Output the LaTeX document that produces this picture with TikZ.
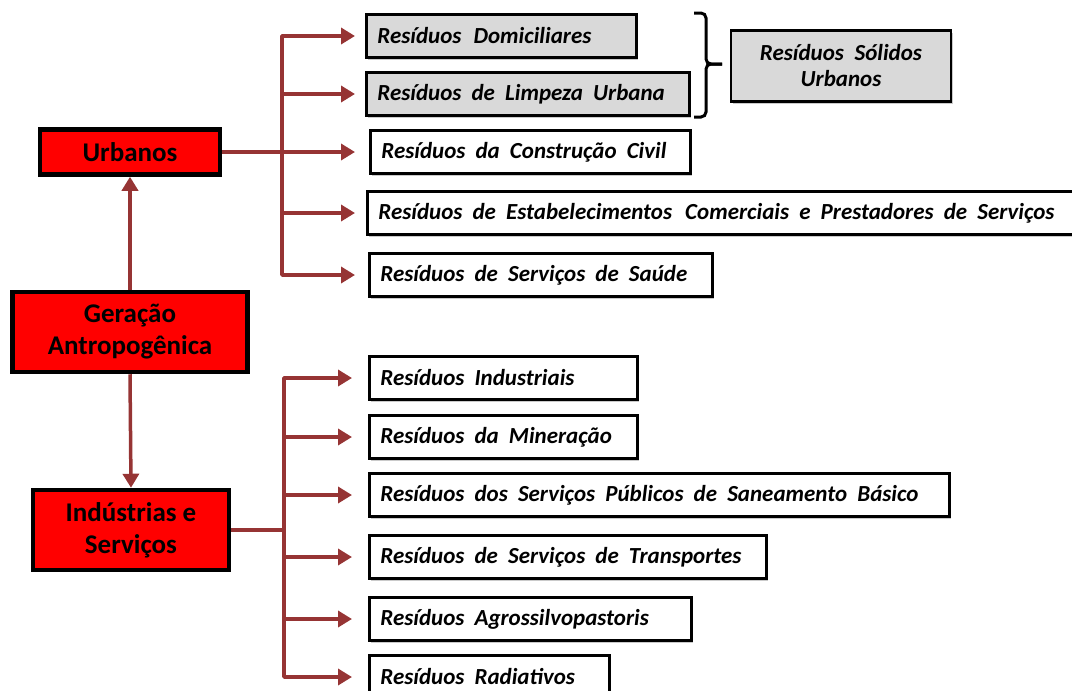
\documentclass[tikz,border=0pt]{standalone}
\usepackage{fontspec}
\setmainfont{Carlito}
\usetikzlibrary{arrows.meta,shadows}
\colorlet{CaixaVermelha}{red}
\colorlet{CaixaCinza}{black!15}
\definecolor{CorSeta}{RGB}{150,52,52}
\newcommand{\espacamento}{\spaceskip=0.44em plus 0.05em\relax}

\tikzset{
  sombra/.style={drop shadow={shadow xshift=2pt, shadow yshift=-2pt, opacity=0.35, fill=black!60}},
  principal/.style={sombra, draw=black, line width=4.5pt, fill=CaixaVermelha,
    font=\bfseries\fontsize{27}{32}\selectfont, align=center},
  residuo/.style={sombra, draw=black, line width=2.8pt, fill=white, anchor=west,
    font=\bfseries\itshape\fontsize{23}{26}\selectfont,
    execute at begin node=\espacamento,
    align=left, inner xsep=11pt, minimum height=43pt},
  cinza/.style={residuo, fill=CaixaCinza},
  seta/.style={draw=CorSeta, line width=3.5pt, line join=round,
    -{Triangle[length=14pt,width=16pt]}},
  chave/.style={draw=black, line width=3pt, rounded corners=5pt},
}

\begin{document}
\begin{tikzpicture}[x=1pt, y=-1pt]

    \useasboundingbox (0,0) rectangle (1072,691);
    \clip (0,0) rectangle (1072,691);

    % Caixas vermelhas (origem)
    \node [principal, minimum width=180pt, minimum height=45pt] (urb) at (130,152) {Urbanos};
    \node [principal, minimum width=235pt, minimum height=80pt] (ger) at (130,332) {Geração\\Antropogênica};
    \node [principal, minimum width=196pt, minimum height=80pt] (ind) at (131,530) {Indústrias e\\Serviços};

    % Ramo urbano
    \node [cinza, text width=248pt] (dom) at (365,36) {Resíduos\hspace{2pt} Domiciliares};
    \node [cinza, text width=301pt] (limp) at (365,94) {Resíduos de Limpeza Urbana};
    \node [residuo, text width=298pt] (civil) at (369,152) {Resíduos da Construção Civil};
    \node [residuo, text width=696pt] (comer) at (366,213) {Resíduos de Estabelecimentos\hspace{3pt} Comerciais e Prestadores de Serviços};
    \node [residuo, text width=321pt] (saude) at (368,275) {Resíduos de Serviços de Saúde};

    \node [cinza, anchor=center, align=center, text width=198pt, minimum height=71pt] (rsu) at (841,66) {Resíduos Sólidos\\Urbanos};

    % Ramo industrial
    \node [residuo, text width=246pt] (indus) at (368,378) {Resíduos Industriais};
    \node [residuo, text width=246pt] (miner) at (368,437) {Resíduos da Mineração};
    \node [residuo, text width=558pt] (sanea) at (368,495) {Resíduos dos Serviços Públicos de Saneamento Básico};
    \node [residuo, text width=375pt] (transp) at (368,557) {Resíduos de Serviços de Transportes};
    \node [residuo, text width=300pt] (agro) at (368,619) {Resíduos Agrossilvopastoris};
    \node [residuo, text width=218pt] (radia) at (368,677) {Resíduos Radiativos};

    \coordinate (tu) at (282,152);
    \coordinate (ti) at (284,530);

    \draw [seta] (ger.north) -- (urb.south);
    \draw [seta] (ger.south) -- (ind.north);

    \draw [seta, shorten >=10pt] (urb.east) -- (tu) |- (dom.west);
    \draw [seta, shorten >=10pt] (urb.east) -- (tu) |- (limp.west);
    \draw [seta, shorten >=14pt] (urb.east) -- (civil.west);
    \draw [seta, shorten >=11pt] (urb.east) -- (tu) |- (comer.west);
    \draw [seta, shorten >=13pt] (urb.east) -- (tu) |- (saude.west);

    \foreach \alvo in {indus,miner,sanea,transp,agro,radia}
        \draw [seta, shorten >=16pt] (ind.east) -- (ti) |- (\alvo.west);

    % Chave dos resíduos sólidos urbanos
    \coordinate (chA) at (694,13);
    \coordinate (chM) at (722,64);
    \coordinate (chB) at (694,117);
    \draw [chave] (chA) -- (706,13) -- (706,64) -- (chM);
    \draw [chave] (chB) -- (706,117) -- (706,64) -- (chM);

\end{tikzpicture}
\end{document}
